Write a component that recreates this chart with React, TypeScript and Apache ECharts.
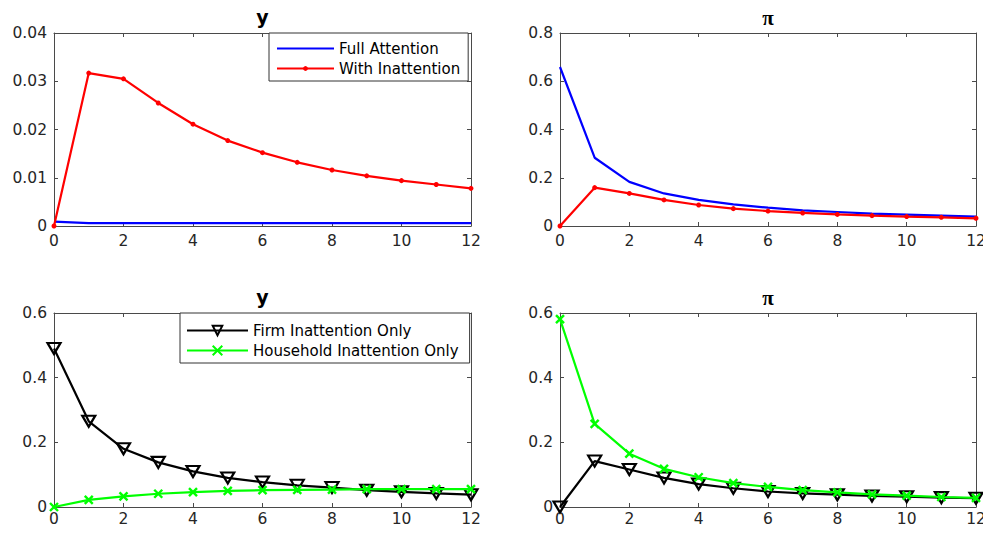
import React, { useEffect, useRef } from "react";
import * as echarts from "echarts";

const periods = [0, 1, 2, 3, 4, 5, 6, 7, 8, 9, 10, 11, 12];

// Top row: output (y) and inflation (pi)
const yFullAttention = [0.0009, 0.0006, 0.0006, 0.0006, 0.0006, 0.0006, 0.0006, 0.0006, 0.0006, 0.0006, 0.0006, 0.0006, 0.0006];
const yWithInattention = [0, 0.0317, 0.0305, 0.0255, 0.0211, 0.0177, 0.0152, 0.0132, 0.0116, 0.0104, 0.0094, 0.0086, 0.0078];
const piFullAttention = [0.659, 0.283, 0.183, 0.135, 0.108, 0.09, 0.076, 0.065, 0.058, 0.051, 0.047, 0.043, 0.039];
const piWithInattention = [0, 0.159, 0.135, 0.108, 0.087, 0.072, 0.062, 0.054, 0.048, 0.043, 0.039, 0.036, 0.032];

// Bottom row
const yFirmOnly = [0.49, 0.265, 0.18, 0.138, 0.11, 0.09, 0.077, 0.067, 0.06, 0.052, 0.047, 0.042, 0.038];
const yHouseholdOnly = [0, 0.022, 0.033, 0.041, 0.046, 0.05, 0.052, 0.053, 0.054, 0.055, 0.055, 0.055, 0.055];
const piFirmOnly = [0, 0.142, 0.116, 0.09, 0.071, 0.058, 0.048, 0.042, 0.038, 0.034, 0.032, 0.029, 0.027];
const piHouseholdOnly = [0.581, 0.257, 0.165, 0.118, 0.092, 0.074, 0.062, 0.052, 0.045, 0.039, 0.035, 0.031, 0.028];

const titles = ["y", "\u03c0", "y", "\u03c0"];
const yMax = [0.04, 0.8, 0.6, 0.6];
const yStep = [0.01, 0.2, 0.2, 0.2];
const xTicks = { min: 0, max: 12, interval: 2 };

const FONT = "DejaVu Sans";
const AXIS = "#4a4a4a";
const TXT = "#262626";
const TICK_FS = 15.5;

const pairs = (arr: number[]) => periods.map((t, i) => [t, arr[i]]);

export default function App() {
  const ref = useRef<HTMLDivElement>(null);
  useEffect(() => {
    if (!ref.current) return;
    const chart = echarts.init(ref.current, undefined, { renderer: "svg" });

    const grids = [
      { left: 54, top: 33, width: 417, height: 193 },
      { left: 560, top: 33, width: 416, height: 193 },
      { left: 54, top: 313, width: 417, height: 194 },
      { left: 560, top: 313, width: 416, height: 194 },
    ];

    const xAxis: any[] = [];
    const yAxis: any[] = [];
    grids.forEach((_, i) => {
      const labelMargin = i < 2 ? 7 : 4;
      xAxis.push({
        type: "value", gridIndex: i, position: "bottom", ...xTicks,
        axisLine: { show: true, lineStyle: { color: AXIS, width: 1 } },
        axisTick: { show: true, inside: true, length: 4, lineStyle: { color: AXIS } },
        axisLabel: { show: true, color: TXT, fontFamily: FONT, fontSize: TICK_FS, margin: labelMargin, showMaxLabel: true, showMinLabel: true },
        splitLine: { show: false },
      });
      xAxis.push({
        type: "value", gridIndex: i, position: "top", ...xTicks,
        axisLine: { show: true, onZero: false, lineStyle: { color: AXIS, width: 1 } },
        axisTick: { show: true, inside: true, length: 4, lineStyle: { color: AXIS } },
        axisLabel: { show: false },
        splitLine: { show: false },
      });
      yAxis.push({
        type: "value", gridIndex: i, position: "left", min: 0, max: yMax[i], interval: yStep[i],
        axisLine: { show: true, onZero: false, lineStyle: { color: AXIS, width: 1 } },
        axisTick: { show: true, inside: true, length: 4, lineStyle: { color: AXIS } },
        axisLabel: { show: true, color: TXT, fontFamily: FONT, fontSize: TICK_FS, margin: 7 },
        splitLine: { show: false },
      });
      yAxis.push({
        type: "value", gridIndex: i, position: "right", min: 0, max: yMax[i], interval: yStep[i],
        axisLine: { show: true, onZero: false, lineStyle: { color: AXIS, width: 1 } },
        axisTick: { show: true, inside: true, length: 4, lineStyle: { color: AXIS } },
        axisLabel: { show: false },
        splitLine: { show: false },
      });
    });

    const titleOpts = titles.map((t, i) => ({
      text: t,
      left: grids[i].left + grids[i].width / 2,
      top: i < 2 ? 7 : 287,
      textAlign: "center",
      padding: 0,
      textStyle: {
        fontFamily: i % 2 === 0 ? FONT : "Liberation Serif",
        fontWeight: "bold",
        fontSize: i % 2 === 0 ? 19 : 21,
        color: "#000",
      },
    }));

    const blue = (name: string, data: number[], gi: number) => ({
      name, type: "line", xAxisIndex: gi * 2, yAxisIndex: gi * 2,
      data: pairs(data), symbol: "none",
      lineStyle: { color: "#0000ff", width: 2.2 },
      itemStyle: { color: "#0000ff" },
      z: 2,
    });
    const red = (name: string, data: number[], gi: number) => ({
      name, type: "line", xAxisIndex: gi * 2, yAxisIndex: gi * 2,
      data: pairs(data), symbol: "circle", symbolSize: 5,
      lineStyle: { color: "#ff0000", width: 2.2 },
      itemStyle: { color: "#ff0000" },
      z: 3,
    });
    const black = (name: string, data: number[], gi: number) => ({
      name, type: "line", xAxisIndex: gi * 2, yAxisIndex: gi * 2,
      data: pairs(data), symbol: "triangle", symbolRotate: 180, symbolSize: [13, 11],
      lineStyle: { color: "#000000", width: 2.2 },
      itemStyle: { color: "rgba(255,255,255,0)", borderColor: "#000000", borderWidth: 2.2 },
      clip: false,
      z: 2,
    });
    const green = (name: string, data: number[], gi: number) => ({
      name, type: "line", xAxisIndex: gi * 2, yAxisIndex: gi * 2,
      data: pairs(data), symbol: "path://M0,0L10,10M10,0L0,10", symbolSize: 8,
      lineStyle: { color: "#00ff00", width: 2.2 },
      itemStyle: { color: "#00ff00", borderColor: "#00ff00", borderWidth: 2.4 },
      clip: false,
      z: 3,
    });

    const series = [
      blue("Full Attention", yFullAttention, 0),
      red("With Inattention", yWithInattention, 0),
      blue("Full Attention", piFullAttention, 1),
      red("With Inattention", piWithInattention, 1),
      black("Firm Inattention Only", yFirmOnly, 2),
      green("Household Inattention Only", yHouseholdOnly, 2),
      black("Firm Inattention Only", piFirmOnly, 3),
      green("Household Inattention Only", piHouseholdOnly, 3),
    ];

    chart.setOption({
      animation: false,
      backgroundColor: "#ffffff",
      textStyle: { fontFamily: FONT },
      title: titleOpts,
      grid: grids.map((g) => ({ ...g, show: false, containLabel: false, outerBoundsMode: "none" })),
      xAxis,
      yAxis,
      legend: [
        {
          data: [
            { name: "Full Attention", itemStyle: { opacity: 0 } },
            "With Inattention",
          ],
          orient: "vertical", left: 269, top: 33,
          itemWidth: 57, itemHeight: 6, itemGap: 5,
          padding: [8, 8, 5, 7],
          borderColor: "#333", borderWidth: 1, backgroundColor: "#fff",
          selectedMode: false,
          textStyle: { fontFamily: FONT, fontSize: 15, color: "#000" },
        },
        {
          data: ["Firm Inattention Only", "Household Inattention Only"],
          orient: "vertical", left: 180, top: 313,
          itemWidth: 61, itemHeight: 12, itemGap: 5,
          padding: [10, 11, 5, 6],
          borderColor: "#333", borderWidth: 1, backgroundColor: "#fff",
          selectedMode: false,
          textStyle: { fontFamily: FONT, fontSize: 15, color: "#000" },
        },
      ],
      series,
    });
    return () => chart.dispose();
  }, []);

  return (
    <div
      ref={ref}
      style={{ position: "absolute", left: 0, top: 0, width: 983, height: 535 }}
    />
  );
}
